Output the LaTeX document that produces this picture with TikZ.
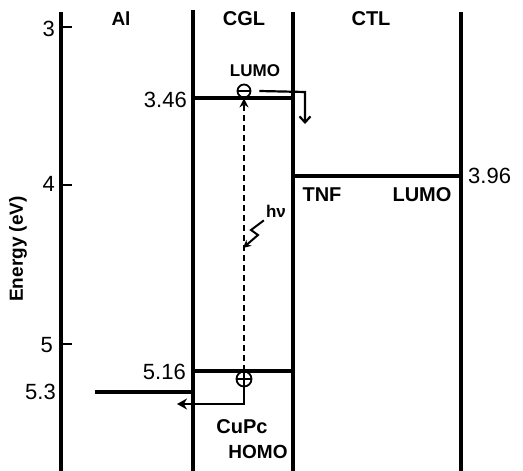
\documentclass[tikz,border=0pt]{standalone}
\usepackage{fontspec}
\setmainfont{Liberation Sans}
\usetikzlibrary{arrows.meta}
\begin{document}
\begin{tikzpicture}[x=1pt,y=-1pt,
  wall/.style={line width=3.2pt},
  level/.style={line width=3.4pt},
  tickmark/.style={line width=1.6pt},
  num/.style={font=\fontsize{22}{22}\selectfont, inner sep=0pt},
  lab/.style={font=\bfseries\fontsize{19}{19}\selectfont, inner sep=0pt},
  carrier/.style={circle, draw, line width=1.8pt, inner sep=0pt}]
\useasboundingbox (0,0) rectangle (523,471);
% walls
\coordinate (axT) at (61,12);  \coordinate (axB) at (61,471);
\coordinate (w1T) at (193,10); \coordinate (w1B) at (193,471);
\coordinate (w2T) at (293,12); \coordinate (w2B) at (293,471);
\coordinate (w3T) at (461,12); \coordinate (w3B) at (461,471);
\draw[wall] (axT) -- (axB);
\draw[wall] (w1T) -- (w1B);
\draw[wall] (w2T) -- (w2B);
\draw[wall] (w3T) -- (w3B);
% ticks
\coordinate (t3) at (61,27); \coordinate (t4) at (61,185); \coordinate (t5) at (61,344);
\draw[tickmark] (t3) -- ++(11,0);
\draw[tickmark] (t4) -- ++(11,0);
\draw[tickmark] (t5) -- ++(11,0);
\node[num, anchor=east] (n3) at (55,29) {3};
\node[num, anchor=east] (n4) at (55,184) {4};
\node[num, anchor=east] (n5) at (53,345) {5};
\node[num, anchor=east] (n53) at (56,392) {5.3};
% levels
\coordinate (cgLa) at (193,98);  \coordinate (cgLb) at (293,98);
\coordinate (tnfa) at (293,176); \coordinate (tnfb) at (461,176);
\coordinate (cgHa) at (193,371); \coordinate (cgHb) at (293,371);
\coordinate (ala) at (95,392);   \coordinate (alb) at (193,392);
\draw[level] (cgLa) -- (cgLb);
\draw[level] (tnfa) -- (tnfb);
\draw[level] (cgHa) -- (cgHb);
\draw[level] (ala) -- (alb);
\node[num, anchor=east] (n346) at (187,100) {3.46};
\node[num, anchor=east] (n516) at (186,372) {5.16};
\node[num, anchor=west] (n396) at (468,176) {3.96};
% headers
\node[lab] (hAl) at (121,19) {Al};
\node[lab, font=\bfseries\fontsize{20}{20}\selectfont] (hCGL) at (244,19) {CGL};
\node[lab, font=\bfseries\fontsize{20}{20}\selectfont] (hCTL) at (371,19) {CTL};
\node[lab, font=\bfseries\fontsize{17}{17}\selectfont] (lumo1) at (255,71) {LUMO};
\node[lab, font=\bfseries\fontsize{20}{20}\selectfont] (tnf) at (322,195) {TNF};
\node[lab, font=\bfseries\fontsize{20}{20}\selectfont] (lumo2) at (422,195) {LUMO};
\node[lab, font=\bfseries\fontsize{20}{20}\selectfont] (cupc) at (242,427) {CuPc};
\node[lab] (homo) at (258,452) {HOMO};
\node[lab, font=\bfseries\fontsize{19}{19}\selectfont, rotate=90] (energy) at (18,249) {Energy (eV)};
% carriers
\node[carrier, minimum size=13pt] (el) at (244,91) {};
\draw[line width=1.8pt] (el.west) -- (el.east);
\node[carrier, minimum size=15pt] (ho) at (244,379) {};
\draw[line width=1.8pt] (ho.west) -- (ho.east) (ho.north) -- (ho.south);
% excitation
\draw[line width=2.4pt, dash pattern=on 6pt off 4pt, -{Stealth[length=9pt,width=9pt]}] (ho.north) -- (el.south);
% electron transfer
\coordinate (eTurn) at (305,92);
\coordinate (eEnd) at (305,124);
\draw[line width=2.2pt, -{Straight Barb[length=6pt,width=11pt]}] ([xshift=8pt]el.east) -- (eTurn) -- (eEnd);
% hole transfer
\coordinate (hTurn) at (244,404);
\coordinate (hEnd) at (177,404);
\draw[line width=2.8pt, -{Stealth[length=10pt,width=11pt]}] (ho.south) -- (hTurn) -- (hEnd);
% photon
\node[font=\bfseries\fontsize{17}{17}\selectfont, inner sep=0pt] (hv) at (276,211) {hν};
\coordinate (p1) at (251,230); \coordinate (p2) at (258,235); \coordinate (pEnd) at (243,248);
\draw[line width=2pt, -{Stealth[length=8pt,width=8pt]}] (hv.south west) ++(-2,3) -- (p1) -- (p2) -- (pEnd);
\end{tikzpicture}
\end{document}
